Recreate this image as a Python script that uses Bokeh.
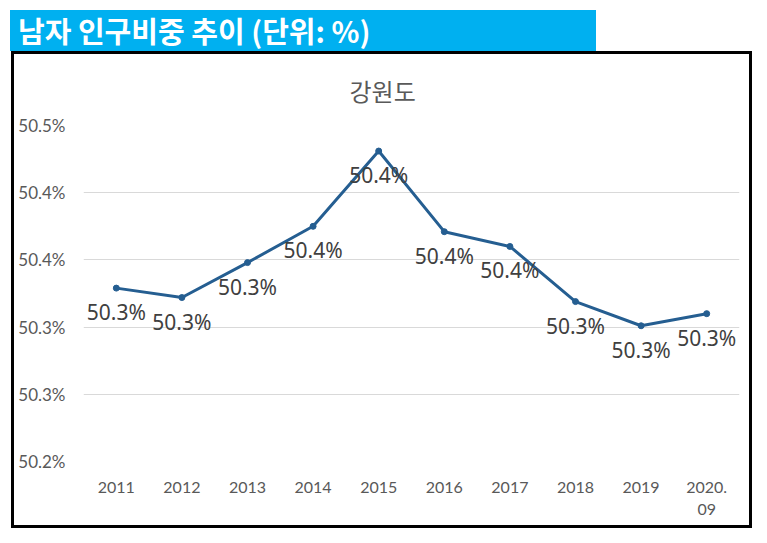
from bokeh.plotting import figure
from bokeh.layouts import column
from bokeh.models import FactorRange, Range1d, FixedTicker, ColumnDataSource, Div
from bokeh.core.properties import value
from bokeh.embed import file_html
from bokeh.resources import INLINE

# 남자 인구비중 (강원도, %)
years = ['2011', '2012', '2013', '2014', '2015', '2016', '2017', '2018', '2019', '2020.\n09']
ratio = [50.329, 50.322, 50.348, 50.375, 50.431, 50.371, 50.360, 50.319, 50.301, 50.310]
point_labels = ['%.1f%%' % v for v in ratio]

y_ticks = [50.20, 50.25, 50.30, 50.35, 50.40, 50.45]
y_tick_labels = ['50.2%', '50.3%', '50.3%', '50.4%', '50.4%', '50.5%']

header_text = '남자 인구비중 추이 (단위: %)'
chart_title = '강원도'

line_color = '#255E91'
grey = '#595959'

#제목 띠
head = Div(text=header_text, width=586, height=41,
	margin=(10, 0, 0, 10), align='start',
	styles={'background-color': '#00B0F0', 'color': 'white',
		'font-family': 'Noto Sans CJK KR', 'font-weight': 'bold',
		'font-size': '29px', 'line-height': '41px', 'padding-left': '8px',
		'box-sizing': 'border-box', 'white-space': 'nowrap'})

#그래프 (캔버스가 테두리만큼 밀리므로 오른쪽/아래 여백에 6px 더함)
src = ColumnDataSource(dict(x=years, y=ratio, lab=point_labels))

p = figure(width=741, height=477,
	x_range=FactorRange(*years), y_range=Range1d(50.20, 50.45),
	output_backend='svg', toolbar_location=None,
	min_border_left=69, min_border_right=16, min_border_top=70, min_border_bottom=70,
	margin=(0, 0, 0, 11), align='start',
	styles={'border': '3px solid black'})
p.outline_line_color = None
p.xgrid.grid_line_color = None
p.ygrid.grid_line_color = '#D9D9D9'
p.ygrid.grid_line_width = 1

p.title.text = chart_title
p.title.align = 'left'
p.title.offset = 266
p.title.vertical_align = 'middle'
p.title.standoff = 34
p.title.text_font = 'Noto Sans CJK KR'
p.title.text_font_style = 'normal'
p.title.text_font_size = '24px'
p.title.text_color = grey

p.yaxis.ticker = FixedTicker(ticks=y_ticks)
p.yaxis.major_label_overrides = dict(zip(y_ticks, y_tick_labels))
for ax in (p.xaxis, p.yaxis):
	ax.axis_line_color = None
	ax.major_tick_line_color = None
	ax.minor_tick_line_color = None
	ax.major_label_text_font = 'Lato'
	ax.major_label_text_font_size = '16px'
	ax.major_label_text_color = grey
p.yaxis.major_label_text_font_size = '17px'
p.yaxis.major_label_standoff = 12
p.xaxis.major_label_standoff = 9

p.line('x', 'y', source=src, line_color=line_color, line_width=3)
p.scatter('x', 'y', source=src, size=6, fill_color=line_color, line_color=line_color)
p.text('x', 'y', text='lab', source=src, y_offset=24,
	text_align='center', text_baseline='middle',
	text_font=value('Noto Sans'), text_font_size='21px', text_color='#404040')

l = column(head, p)
open('out.html', 'w').write(file_html(l, INLINE))
